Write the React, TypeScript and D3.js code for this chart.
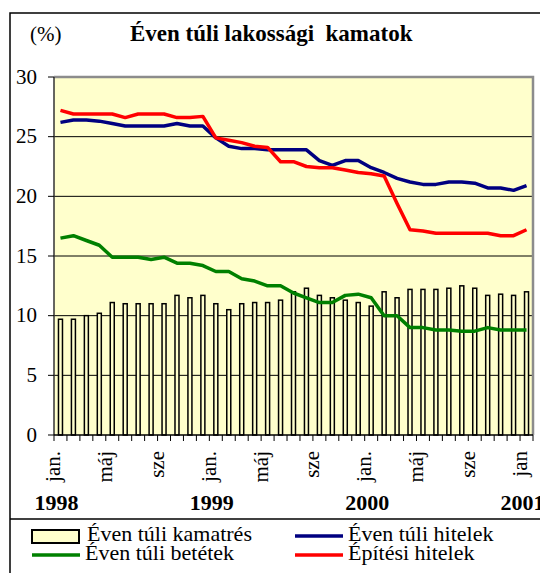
import { useEffect } from 'react'
import * as d3 from 'd3'

// months Jan 1998 .. Jan 2001
const months = [
  '1998-01', '1998-02', '1998-03', '1998-04', '1998-05', '1998-06', '1998-07', '1998-08', '1998-09', '1998-10', '1998-11', '1998-12',
  '1999-01', '1999-02', '1999-03', '1999-04', '1999-05', '1999-06', '1999-07', '1999-08', '1999-09', '1999-10', '1999-11', '1999-12',
  '2000-01', '2000-02', '2000-03', '2000-04', '2000-05', '2000-06', '2000-07', '2000-08', '2000-09', '2000-10', '2000-11', '2000-12',
  '2001-01'
]

const monthLabels = [
  { month: '1998-01', label: 'jan.' }, { month: '1998-05', label: 'máj' }, { month: '1998-09', label: 'sze' },
  { month: '1999-01', label: 'jan.' }, { month: '1999-05', label: 'máj' }, { month: '1999-09', label: 'sze' },
  { month: '2000-01', label: 'jan.' }, { month: '2000-05', label: 'máj' }, { month: '2000-09', label: 'sze' },
  { month: '2001-01', label: 'jan' }
]

const yearLabels = [
  { month: '1998-01', label: '1998' },
  { month: '1999-01', label: '1999' },
  { month: '2000-01', label: '2000' },
  { month: '2001-01', label: '2001' }
]

const yTicks = [0, 5, 10, 15, 20, 25, 30]

// Éven túli kamatrés (bars)
const kamatres = [
  9.7, 9.7, 10.0, 10.2, 11.1, 11.0, 11.0, 11.0, 11.0, 11.7, 11.5, 11.7,
  11.0, 10.5, 11.0, 11.1, 11.1, 11.3, 12.0, 12.3, 11.7, 11.5, 11.3, 11.1,
  10.8, 12.0, 11.5, 12.2, 12.2, 12.2, 12.3, 12.5, 12.3, 11.7, 11.8, 11.7,
  12.0
]

// Éven túli hitelek
const hitelek = [
  26.2, 26.4, 26.4, 26.3, 26.1, 25.9, 25.9, 25.9, 25.9, 26.1, 25.9, 25.9,
  24.9, 24.2, 24.0, 24.0, 23.9, 23.9, 23.9, 23.9, 23.0, 22.6, 23.0, 23.0,
  22.4, 22.0, 21.5, 21.2, 21.0, 21.0, 21.2, 21.2, 21.1, 20.7, 20.7, 20.5,
  20.9
]

// Éven túli betétek
const betetek = [
  16.5, 16.7, 16.3, 15.9, 14.9, 14.9, 14.9, 14.7, 14.9, 14.4, 14.4, 14.2,
  13.7, 13.7, 13.1, 12.9, 12.5, 12.5, 11.9, 11.5, 11.1, 11.1, 11.7, 11.8,
  11.5, 10.0, 10.0, 9.0, 9.0, 8.8, 8.8, 8.7, 8.7, 9.0, 8.8, 8.8,
  8.8
]

// Építési hitelek
const epitesi = [
  27.2, 26.9, 26.9, 26.9, 26.9, 26.6, 26.9, 26.9, 26.9, 26.6, 26.6, 26.7,
  24.9, 24.7, 24.5, 24.2, 24.1, 22.9, 22.9, 22.5, 22.4, 22.4, 22.2, 22.0,
  21.9, 21.7, 19.4, 17.2, 17.1, 16.9, 16.9, 16.9, 16.9, 16.9, 16.7, 16.7,
  17.2
]

const FONT = 'Liberation Serif'

const plot = { left: 54, right: 533, top: 77, bottom: 435 }

const x = d3.scaleBand<string>()
  .domain(months)
  .range([plot.left, plot.right])
const cx = (m: string) => (x(m) as number) + x.bandwidth() / 2

const y = d3.scaleLinear()
  .domain([0, 30])
  .range([plot.bottom, plot.top])

const line = d3.line<number>()
  .x((d, i) => cx(months[i]))
  .y(d => y(d))

const series = [
  { values: betetek, color: '#008000' },
  { values: hitelek, color: '#000080' },
  { values: epitesi, color: '#FF0000' }
]

const legendItems = [
  { label: 'Éven túli kamatrés', kind: 'bar', color: '#FFFFCC', x: 32, y: 536 },
  { label: 'Éven túli hitelek', kind: 'line', color: '#000080', x: 295, y: 536 },
  { label: 'Éven túli betétek', kind: 'line', color: '#008000', x: 32, y: 555 },
  { label: 'Építési hitelek', kind: 'line', color: '#FF0000', x: 295, y: 555 }
]

const txt = (size: number, bold = false) => ({
  fontFamily: FONT,
  fontSize: size,
  fontWeight: bold ? 'bold' : 'normal',
  whiteSpace: 'pre' as const
})

export default function App() {
  useEffect(() => {
    document.body.style.margin = '0'
  }, [])

  const bw = 4
  const bounds = months.map(m => x(m) as number).concat([plot.right])

  return (
    <svg width={540} height={573} style={{ display: 'block', background: '#fff' }}>
      {/* outer frame */}
      <path d="M10,580 L10,13 L545,13" fill="none" stroke="#000" strokeWidth={1.5} />
      <line x1={10} x2={545} y1={519} y2={519} stroke="#000" strokeWidth={1.5} />

      {/* title */}
      <text x={30} y={41} style={txt(21)}>(%)</text>
      <text x={130} y={41} style={txt(23, true)}>Éven túli lakossági  kamatok</text>

      {/* plot background */}
      <rect x={plot.left} y={plot.top} width={plot.right - plot.left} height={plot.bottom - plot.top} fill="#FFFFCC" />

      {/* grid */}
      {yTicks.filter(t => t > 0 && t < 30).map(t => (
        <line key={t} x1={plot.left} x2={plot.right} y1={y(t)} y2={y(t)} stroke="#000" strokeWidth={1} />
      ))}

      {/* plot border */}
      <path d={`M${plot.left},${plot.top} L${plot.right},${plot.top} L${plot.right},${plot.bottom}`}
        fill="none" stroke="#8c8c8c" strokeWidth={2.5} />

      {/* bars */}
      {kamatres.map((v, i) => (
        <rect key={i} x={cx(months[i]) - bw / 2} y={y(v)} width={bw} height={y(0) - y(v)}
          fill="#FFFFCC" stroke="#000" strokeWidth={1.5} />
      ))}

      {/* lines */}
      {series.map(s => (
        <path key={s.color} d={line(s.values) as string} fill="none" stroke={s.color}
          strokeWidth={3.5} strokeLinejoin="round" />
      ))}

      {/* y axis */}
      <line x1={plot.left} x2={plot.left} y1={plot.top} y2={plot.bottom} stroke="#333" strokeWidth={1.5} />
      {yTicks.map(t => (
        <g key={t}>
          <line x1={plot.left - 6} x2={plot.left} y1={y(t)} y2={y(t)} stroke="#000" strokeWidth={1} />
          <text x={37} y={y(t)} dy="0.32em" textAnchor="end" style={txt(21)}>{t}</text>
        </g>
      ))}

      {/* x axis */}
      <line x1={plot.left} x2={plot.right} y1={plot.bottom} y2={plot.bottom} stroke="#000" strokeWidth={1.5} />
      {bounds.map((b, i) => (
        <line key={i} x1={b} x2={b} y1={plot.bottom} y2={plot.bottom + 6} stroke="#000" strokeWidth={1} />
      ))}
      {monthLabels.map(d => (
        <text key={d.month} transform={`translate(${cx(d.month)},451) rotate(-90)`} textAnchor="end" style={txt(21)}>
          {d.label}
        </text>
      ))}
      {yearLabels.map(d => (
        <text key={d.month} x={cx(d.month) - 4} y={510} textAnchor="middle" style={txt(22, true)}>
          {d.label}
        </text>
      ))}

      {/* legend */}
      {legendItems.map(it => (
        <g key={it.label}>
          {it.kind === 'bar'
            ? <rect x={it.x} y={it.y - 6} width={47} height={13} fill={it.color} stroke="#000" strokeWidth={2} />
            : <line x1={it.x} x2={it.x + 48} y1={it.y} y2={it.y} stroke={it.color} strokeWidth={3.5} />}
          <text x={it.x + (it.kind === 'bar' ? 55 : 53)} y={it.y + 5} style={txt(22)}>{it.label}</text>
        </g>
      ))}
    </svg>
  )
}
